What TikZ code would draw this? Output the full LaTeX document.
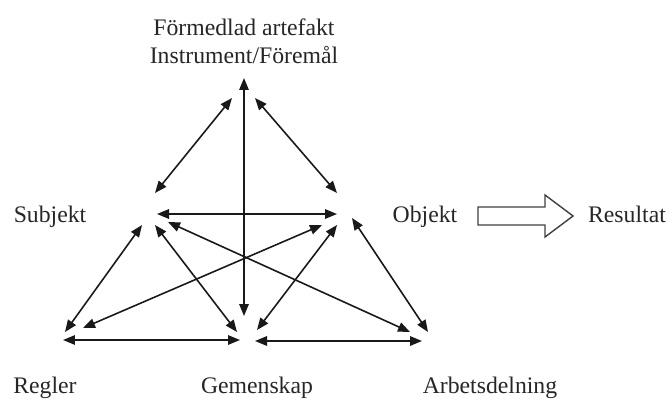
\documentclass[tikz,border=0pt]{standalone}
\usepackage{fontspec}
\setmainfont{Liberation Serif}
\usetikzlibrary{arrows.meta}

\begin{document}
\begin{tikzpicture}[
  x=0.02cm, y=-0.02cm,
  lbl/.style={inner sep=0pt, font=\fontsize{13.5}{15.9}\selectfont, text=black!85},
  link/.style={{Triangle[length=2.4mm,width=1.9mm]}-{Triangle[length=2.4mm,width=1.9mm]}, line width=0.9pt, black!90},
  bigarrow/.style={line width=0.8pt, black!75}
]
\useasboundingbox (0,0) rectangle (672,399);

% ---------- Labels ----------
\node[lbl, align=center, anchor=base] (art) at (244,63) {Förmedlad artefakt\\Instrument/Föremål};
\node[lbl, anchor=base] (subj) at (50,222)  {Subjekt};
\node[lbl, anchor=base] (obj)  at (425,222) {Objekt};
\node[lbl, anchor=base] (res)  at (627,222) {Resultat};
\node[lbl, anchor=base] (regl) at (45,393)  {Regler};
\node[lbl, anchor=base] (gem)  at (257,393) {Gemenskap};
\node[lbl, anchor=base] (arb)  at (490,393) {Arbetsdelning};

% ---------- Arrow ends ----------
\coordinate (Ag) at (244,78);  \coordinate (Ga) at (244,316);
\coordinate (As) at (232,98);  \coordinate (Sa) at (155,193);
\coordinate (Ao) at (255,98);  \coordinate (Oa) at (337,193);
\coordinate (So) at (157,214); \coordinate (Os) at (337,214);
\coordinate (Sr) at (142,225); \coordinate (Rs) at (65,332);
\coordinate (Sg) at (155,225); \coordinate (Gs) at (237,332);
\coordinate (Sd) at (168,222); \coordinate (Ds) at (410,332);
\coordinate (Or) at (322,225); \coordinate (Ro) at (83,328);
\coordinate (Og) at (337,225); \coordinate (Go) at (257,330);
\coordinate (Od) at (352,218); \coordinate (Do) at (428,332);
\coordinate (Rg) at (63,340);  \coordinate (Gr) at (240,340);
\coordinate (Gd) at (255,341); \coordinate (Dg) at (422,341);

% ---------- Links ----------
\draw[link] (Ga) -- (Ag);
\draw[link] (Sa) -- (As);
\draw[link] (Oa) -- (Ao);
\draw[link] (So) -- (Os);
\draw[link] (Rs) -- (Sr);
\draw[link] (Gs) -- (Sg);
\draw[link] (Ds) -- (Sd);
\draw[link] (Ro) -- (Or);
\draw[link] (Go) -- (Og);
\draw[link] (Do) -- (Od);
\draw[link] (Rg) -- (Gr);
\draw[link] (Gd) -- (Dg);

% ---------- Objekt => Resultat ----------
\draw[bigarrow] (478,207) -- (545,207) -- (545,195) -- (573,216)
  -- (545,237) -- (545,225) -- (478,225) -- cycle;

\end{tikzpicture}
\end{document}
